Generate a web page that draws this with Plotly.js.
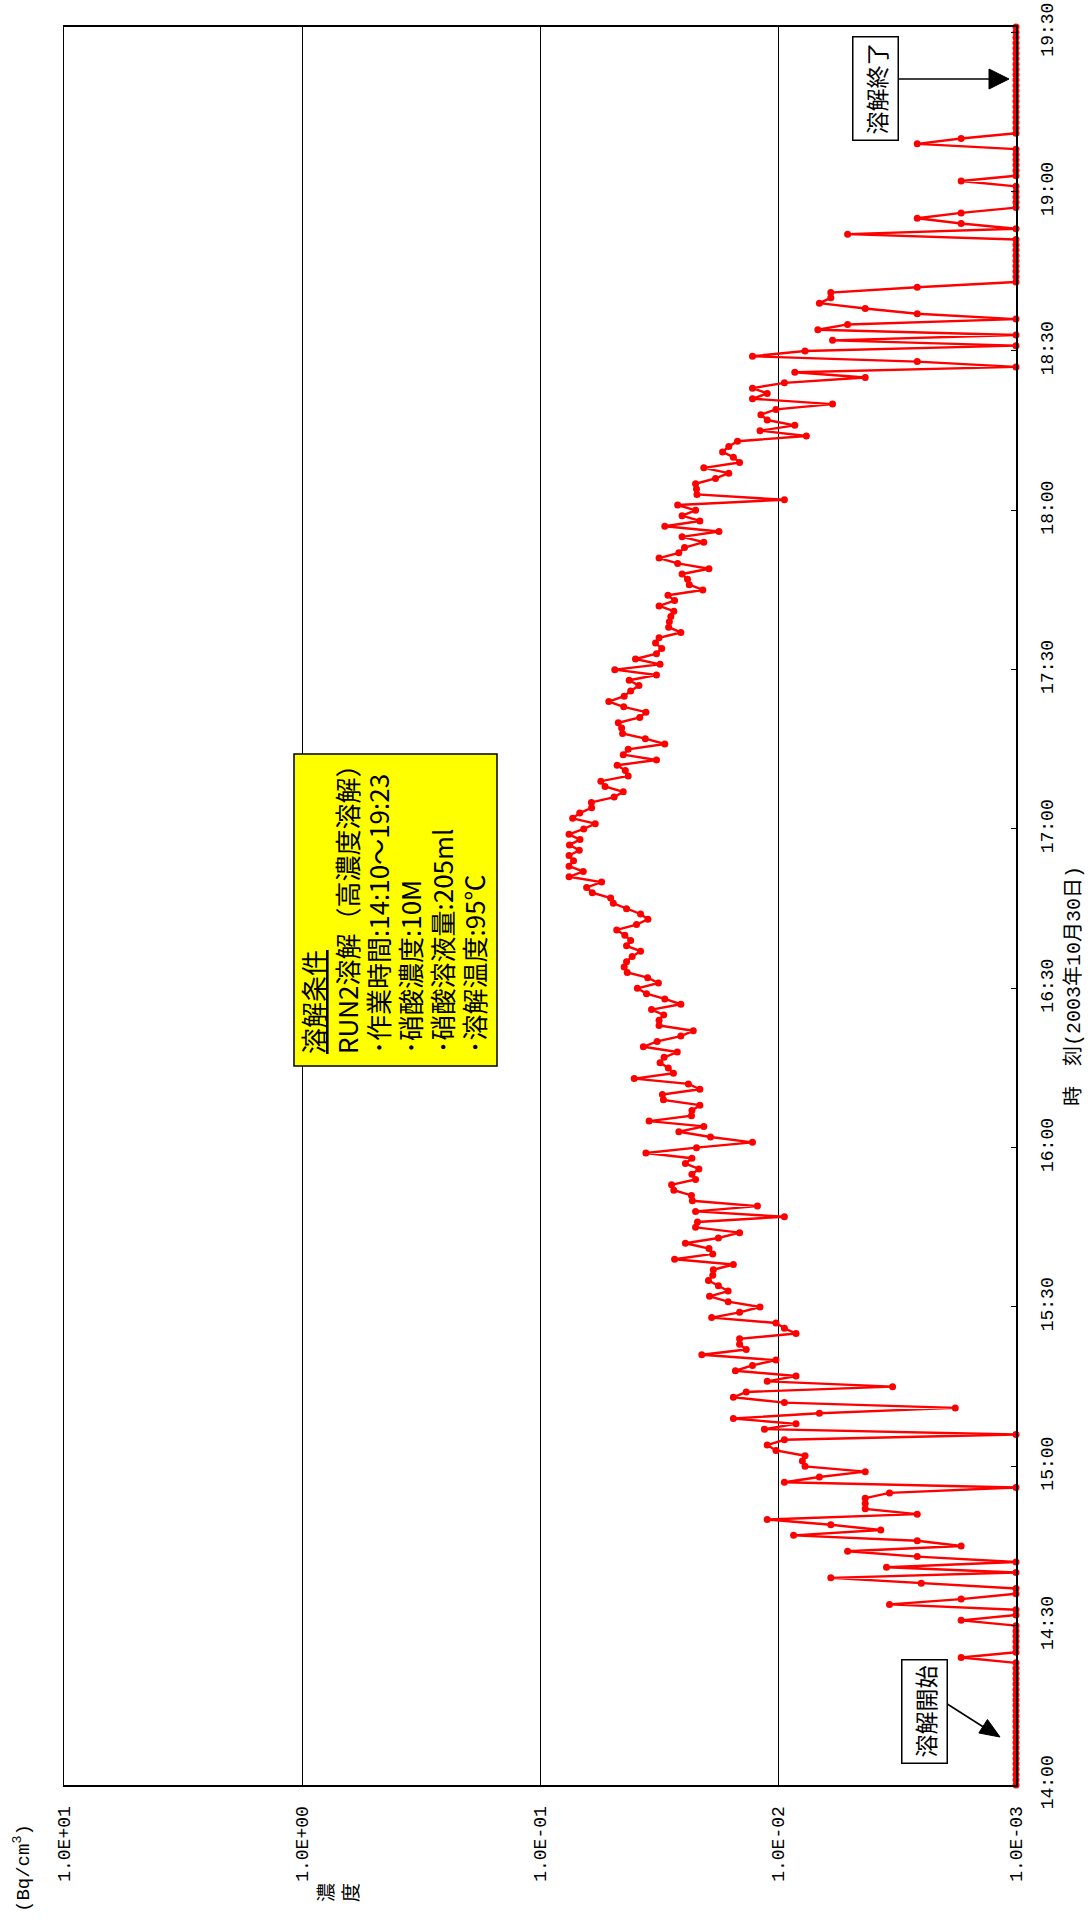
<!DOCTYPE html>
<html>
<head>
<meta charset="utf-8">
<script src="https://cdn.plot.ly/plotly-3.0.1.min.js"></script>
<style>
  html, body { margin: 0; padding: 0; background: #ffffff; }
  #chart { width: 1090px; height: 1922px; }
</style>
</head>
<body>
<div id="chart"></div>
<script>
// ---- data: one reading per minute, 2003-10-30 14:00 .. 19:31 (Bq/cm3) ----
const sampleDate = '2003-10-30';
const startHour = 14;
const stepMinutes = 1;

const concentration = [
  // 14:00 - 14:09
  0.001, 0.001, 0.001, 0.001, 0.001, 0.001, 0.001, 0.001, 0.001, 0.001,
  // 14:10
  0.001, 0.001, 0.001, 0.001, 0.001, 0.001, 0.001, 0.001, 0.001, 0.001,
  // 14:20
  0.001, 0.001, 0.001, 0.001, 0.0017, 0.001, 0.001, 0.001, 0.001, 0.001,
  // 14:30
  0.001, 0.0017, 0.001, 0.001, 0.0034, 0.0017, 0.001, 0.001, 0.0025, 0.0060,
  // 14:40
  0.001, 0.0035, 0.001, 0.0026, 0.0051, 0.0017, 0.0026, 0.0086, 0.0037, 0.0060,
  // 14:50
  0.0111, 0.0026, 0.0043, 0.0043, 0.0043, 0.0034, 0.001, 0.0094, 0.0067, 0.0043,
  // 15:00
  0.0077, 0.0079, 0.0077, 0.0102, 0.0111, 0.0094, 0.001, 0.0114, 0.0084, 0.0154,
  // 15:10
  0.0067, 0.0018, 0.0094, 0.0154, 0.0136, 0.0033, 0.0111, 0.0084, 0.0151, 0.0128,
  // 15:20
  0.0102, 0.0209, 0.0136, 0.0145, 0.0145, 0.0084, 0.0094, 0.0102, 0.0190, 0.0145,
  // 15:30
  0.0119, 0.0162, 0.0194, 0.0162, 0.0178, 0.0196, 0.0188, 0.0187, 0.0154, 0.0272,
  // 15:40
  0.0188, 0.0195, 0.0245, 0.0178, 0.0145, 0.0222, 0.0218, 0.0094, 0.0222, 0.0122,
  // 15:50
  0.0229, 0.0231, 0.0274, 0.0280, 0.0222, 0.0230, 0.0215, 0.0245, 0.0230, 0.0359,
  // 16:00
  0.0220, 0.0128, 0.0192, 0.0261, 0.0205, 0.0348, 0.0231, 0.0230, 0.0213, 0.0303,
  // 16:10
  0.0306, 0.0213, 0.0238, 0.0402, 0.0275, 0.0289, 0.0313, 0.0301, 0.0265, 0.0368,
  // 16:20
  0.0322, 0.0256, 0.0227, 0.0316, 0.0316, 0.0302, 0.0340, 0.0256, 0.0299, 0.0357,
  // 16:30
  0.0390, 0.0318, 0.0353, 0.0430, 0.0443, 0.0433, 0.0410, 0.0378, 0.0433, 0.0416,
  // 16:40
  0.0440, 0.0476, 0.0393, 0.0352, 0.0378, 0.0433, 0.0492, 0.0505, 0.0603, 0.0637,
  // 16:50
  0.0551, 0.0755, 0.0658, 0.0755, 0.0723, 0.0755, 0.0684, 0.0752, 0.0679, 0.0755,
  // 17:00
  0.0655, 0.0586, 0.0729, 0.0681, 0.0607, 0.0608, 0.0488, 0.0447, 0.0533, 0.0555,
  // 17:10
  0.0426, 0.0438, 0.0474, 0.0324, 0.0447, 0.0426, 0.0299, 0.0361, 0.0450, 0.0454,
  // 17:20
  0.0469, 0.0381, 0.0359, 0.0445, 0.0514, 0.0443, 0.0416, 0.0384, 0.0422, 0.0324,
  // 17:30
  0.0485, 0.0313, 0.0397, 0.0324, 0.0308, 0.0327, 0.0316, 0.0256, 0.0288, 0.0286,
  // 17:40
  0.0282, 0.0274, 0.0316, 0.0272, 0.0290, 0.0207, 0.0236, 0.0240, 0.0253, 0.0195,
  // 17:50
  0.0264, 0.0316, 0.0261, 0.0247, 0.0205, 0.0253, 0.0177, 0.0299, 0.0213, 0.0253,
  // 18:00
  0.0222, 0.0264, 0.0094, 0.0219, 0.0220, 0.0222, 0.0183, 0.0161, 0.0205, 0.0145,
  // 18:10
  0.0154, 0.0171, 0.0161, 0.0148, 0.0076, 0.0119, 0.0085, 0.0111, 0.0118, 0.0102,
  // 18:20
  0.0059, 0.0128, 0.0111, 0.0128, 0.0094, 0.0043, 0.0085, 0.001, 0.0026, 0.0128,
  // 18:30
  0.0077, 0.001, 0.0059, 0.001, 0.0068, 0.0051, 0.001, 0.0026, 0.0043, 0.0067,
  // 18:40
  0.0060, 0.0060, 0.0026, 0.001, 0.001, 0.001, 0.001, 0.001, 0.001, 0.001,
  // 18:50
  0.001, 0.001, 0.0051, 0.001, 0.0017, 0.0026, 0.0017, 0.001, 0.001, 0.001,
  // 19:00
  0.001, 0.001, 0.0017, 0.001, 0.001, 0.001, 0.001, 0.001, 0.001, 0.0026,
  // 19:10
  0.0017, 0.001, 0.001, 0.001, 0.001, 0.001, 0.001, 0.001, 0.001, 0.001,
  // 19:20
  0.001, 0.001, 0.001, 0.001, 0.001, 0.001, 0.001, 0.001, 0.001, 0.001,
  // 19:30
  0.001, 0.001
];

const concTickValues = [10, 1, 0.1, 0.01, 0.001];
const concTickLabels = ['1.0E+01', '1.0E+00', '1.0E-01', '1.0E-02', '1.0E-03'];
const timeRange = ['2003-10-30 14:00', '2003-10-30 19:31'];

const legendLines = [
  '<span style="text-decoration:underline">溶解条件</span>',
  'RUN2溶解（高濃度溶解）',
  '･作業時間:14:10～19:23',
  '･硝酸濃度:10M',
  '･硝酸溶液量:205ml',
  '･溶解温度:95℃'
];
const startLabel = '溶解開始';
const endLabel = '溶解終了';
const timeAxisTitle = '時　刻(2003年10月30日)';
const concAxisTitle = '濃<br>度';
const unitLabel = '(Bq/cm<sup>3</sup>)';

// ---- build timestamps from the sampling interval ----
function pad(n) { return (n < 10 ? '0' : '') + n; }
const times = concentration.map(function (_, i) {
  const total = startHour * 60 + i * stepMinutes;
  return sampleDate + ' ' + pad(Math.floor(total / 60)) + ':' + pad(total % 60);
});

const CJK = '"Noto Sans CJK JP", "Noto Sans", sans-serif';
const MONO = '"Liberation Mono", "DejaVu Sans Mono", "Noto Sans CJK JP", monospace';

// page-pixel -> paper helpers for the decorations (plot area 64..1016 x 27..1785)
const PL = 64, PR = 1016, PT = 27, PB = 1785;
function px(x) { return (x - PL) / (PR - PL); }
function py(y) { return (PB - y) / (PB - PT); }

const trace = {
  type: 'scatter',
  mode: 'lines+markers',
  x: concentration,
  y: times,
  line: { color: '#FF0000', width: 2.4 },
  marker: { color: '#FF0000', size: 7 },
  cliponaxis: false,
  hoverinfo: 'x+y'
};

// legend box lines
const legendX = [312, 346, 377, 409, 441, 473];
const legendAnnotations = legendLines.map(function (t, i) {
  return {
    xref: 'paper', yref: 'paper', x: px(legendX[i]), y: py(1056),
    xanchor: 'center', yanchor: 'bottom',
    text: t, showarrow: false, textangle: -90,
    font: { family: CJK, size: 26, color: '#000000' }
  };
});

// arrows as shapes
function tri(tip, dir, len, half) {
  const bx = tip[0] - dir[0] * len, by = tip[1] - dir[1] * len;
  const nx = -dir[1] * half, ny = dir[0] * half;
  return 'M ' + px(tip[0]) + ' ' + py(tip[1]) +
         ' L ' + px(bx + nx) + ' ' + py(by + ny) +
         ' L ' + px(bx - nx) + ' ' + py(by - ny) + ' Z';
}
const dStart = (function () { const dx = 58, dy = 37, l = Math.sqrt(dx * dx + dy * dy); return [dx / l, dy / l]; })();

const shapes = [
  { type: 'rect', xref: 'paper', yref: 'paper', layer: 'above',
    x0: px(294), x1: px(497), y0: py(754), y1: py(1066),
    fillcolor: '#FFFF00', line: { color: '#000000', width: 1.5 } },
  { type: 'line', xref: 'paper', yref: 'paper', layer: 'above',
    x0: px(890), y0: py(79), x1: px(992), y1: py(79),
    line: { color: '#000000', width: 1.5 } },
  { type: 'path', xref: 'paper', yref: 'paper', layer: 'above',
    path: tri([1009, 79], [1, 0], 20, 10),
    fillcolor: '#000000', line: { color: '#000000', width: 1 } },
  { type: 'line', xref: 'paper', yref: 'paper', layer: 'above',
    x0: px(941), y0: py(1700), x1: px(985), y1: py(1728),
    line: { color: '#000000', width: 1.5 } },
  { type: 'path', xref: 'paper', yref: 'paper', layer: 'above',
    path: tri([1000, 1737], dStart, 20, 8),
    fillcolor: '#000000', line: { color: '#000000', width: 1 } }
];

const layout = {
  width: 1090,
  height: 1922,
  margin: { l: 64, r: 74, t: 27, b: 137 },
  paper_bgcolor: '#FFFFFF',
  plot_bgcolor: '#FFFFFF',
  showlegend: false,
  font: { family: CJK, color: '#000000', size: 18 },
  xaxis: {
    type: 'log',
    range: [1, -3],
    autorange: false,
    tickmode: 'array',
    tickvals: concTickValues,
    ticktext: concTickLabels,
    tickangle: -90,
    ticks: '',
    ticklabelstandoff: 12,
    tickfont: { family: MONO, size: 18, color: '#000000' },
    showgrid: true,
    gridcolor: '#000000',
    gridwidth: 1,
    showline: true,
    linecolor: '#000000',
    linewidth: 2,
    mirror: true,
    zeroline: false
  },
  yaxis: {
    type: 'date',
    side: 'right',
    range: timeRange,
    autorange: false,
    tick0: '2003-10-30 14:00',
    dtick: 30 * 60 * 1000,
    tickformat: '%H:%M',
    tickangle: -90,
    ticks: 'inside',
    ticklen: 5,
    tickcolor: '#000000',
    ticklabelstandoff: 14,
    tickfont: { family: MONO, size: 18, color: '#000000' },
    showgrid: false,
    showline: true,
    linecolor: '#000000',
    linewidth: 1.5,
    mirror: true,
    zeroline: false
  },
  shapes: shapes,
  annotations: legendAnnotations.concat([
    {
      xref: 'paper', yref: 'paper', x: px(875), y: py(89),
      xanchor: 'center', yanchor: 'middle',
      text: endLabel, showarrow: false, textangle: -90,
      bgcolor: '#FFFFFF', bordercolor: '#000000', borderwidth: 1.5, borderpad: 5,
      font: { family: CJK, size: 23, color: '#000000' }
    },
    {
      xref: 'paper', yref: 'paper', x: px(924), y: py(1712),
      xanchor: 'center', yanchor: 'middle',
      text: startLabel, showarrow: false, textangle: -90,
      bgcolor: '#FFFFFF', bordercolor: '#000000', borderwidth: 1.5, borderpad: 5,
      font: { family: CJK, size: 23, color: '#000000' }
    },
    {
      xref: 'paper', yref: 'paper', x: px(1074), y: 0.4545,
      xanchor: 'center', yanchor: 'middle',
      text: timeAxisTitle, showarrow: false, textangle: -90,
      font: { family: MONO, size: 20, color: '#000000' }
    },
    {
      xref: 'paper', yref: 'paper', x: px(337), y: py(1893),
      xanchor: 'center', yanchor: 'middle',
      text: concAxisTitle, showarrow: false, textangle: -90,
      font: { family: CJK, size: 19, color: '#000000' }
    },
    {
      xref: 'paper', yref: 'paper', x: px(22), y: py(1868),
      xanchor: 'center', yanchor: 'middle',
      text: unitLabel, showarrow: false, textangle: -90,
      font: { family: MONO, size: 19, color: '#000000' }
    }
  ])
};

Plotly.newPlot('chart', [trace], layout, { staticPlot: true, displayModeBar: false });
</script>
</body>
</html>
